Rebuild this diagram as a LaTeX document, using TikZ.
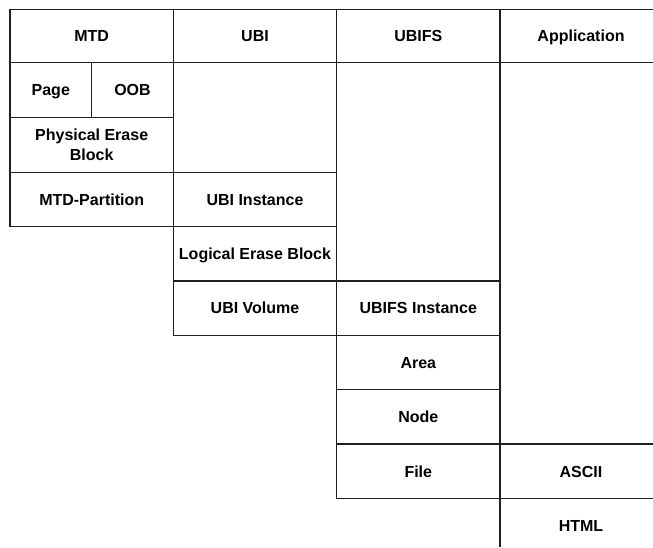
\documentclass[tikz,border=0pt]{standalone}
\usepackage{fontspec}
\setmainfont{Liberation Sans}
\tikzset{
  grid/.style={line width=1.2pt, draw=black!88},
  cell/.style={font=\bfseries\fontsize{16}{20}\selectfont, align=center, text=black, inner sep=0pt, text height=11.5pt, text depth=0pt},
  cell2/.style={font=\bfseries\fontsize{16}{20}\selectfont, align=center, text=black, inner sep=0pt}
}
\begin{document}
\begin{tikzpicture}[x=1pt,y=-1pt]
\useasboundingbox (0,0) rectangle (653,547);
% horizontal lines
\draw[grid] (10,9.3) -- (653,9.3);
\draw[grid] (10,62.7) -- (653,62.7);
\draw[grid] (10,117.7) -- (173.3,117.7);
\draw[grid] (10,172.3) -- (336.7,172.3);
\draw[grid] (10,226.7) -- (336.7,226.7);
\draw[grid] (173.3,281) -- (500,281);
\draw[grid] (173.3,335.3) -- (500,335.3);
\draw[grid] (336.7,389.7) -- (500,389.7);
\draw[grid] (336.7,444) -- (653,444);
\draw[grid] (336.7,498.7) -- (653,498.7);
% vertical lines
\draw[grid] (10,9.3) -- (10,226.7);
\draw[grid] (91.7,62.7) -- (91.7,117.7);
\draw[grid] (173.3,9.3) -- (173.3,335.3);
\draw[grid] (336.7,9.3) -- (336.7,498.7);
\draw[grid] (500,9.3) -- (500,547);
% header
\node[cell] (mtd) at (91.7,36) {MTD};
\node[cell] (ubi) at (255,36) {UBI};
\node[cell] (ubifs) at (418.3,36) {UBIFS};
\node[cell] (app) at (581,36) {Application};
% MTD column
\node[cell] (page) at (50.8,90.2) {Page};
\node[cell] (oob) at (132.5,90.2) {OOB};
\node[cell2] (peb) at (91.7,145) {Physical Erase\\Block};
\node[cell] (part) at (91.7,199.5) {MTD-Partition};
% UBI column
\node[cell] (inst) at (255,199.5) {UBI Instance};
\node[cell] (leb) at (255,253.8) {Logical Erase Block};
\node[cell] (vol) at (255,308.2) {UBI Volume};
% UBIFS column
\node[cell] (fsinst) at (418.3,308.2) {UBIFS Instance};
\node[cell] (area) at (418.3,362.5) {Area};
\node[cell] (nodec) at (418.3,416.8) {Node};
\node[cell] (file) at (418.3,471.3) {File};
% Application column
\node[cell] (ascii) at (581,471.3) {ASCII};
\node[cell] (html) at (581,526) {HTML};
\end{tikzpicture}
\end{document}
